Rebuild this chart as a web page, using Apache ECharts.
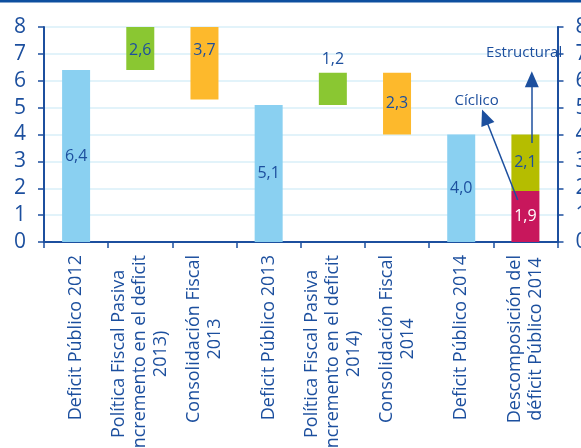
<!DOCTYPE html>
<html><head><meta charset="utf-8">
<script src="https://cdn.jsdelivr.net/npm/echarts@6/dist/echarts.min.js"></script>
<style>html,body{margin:0;padding:0;background:#fff}#c{width:581px;height:448px}</style>
</head><body><div id="c"></div>
<script>
const categories = [
  'Deficit Público 2012',
  'Política Fiscal Pasiva\nincremento en el deficit\n2013)',
  'Consolidación Fiscal\n2013',
  'Deficit Público 2013',
  'Política Fiscal Pasiva\nincremento en el deficit\n2014)',
  'Consolidación Fiscal\n2014',
  'Deficit Público 2014',
  'Descomposición del\ndéficit Público 2014'
];
// kind: deficit / pasiva / consolidacion / desglose
const kinds = ['deficit','pasiva','consolidacion','deficit','pasiva','consolidacion','deficit','desglose'];
const values = [6.4, 2.6, 3.7, 5.1, 1.2, 2.3, 4.0, null];
const ciclico = 1.9;
const estructural = 2.1;
const yTicks = [0,1,2,3,4,5,6,7,8];
const annotations = ['Estructural', 'Cíclico'];
// arrows in data units (x on 0..8 category scale, y value)
const arrowEstructural = [[7.6, 3.68], [7.6, 6.06]];
const arrowCiclico = [[7.38, 1.56], [6.87, 4.65]];
const annotationPos = [[7.48, 7.06], [6.74, 5.24]];

const FONT = 'Open Sans';
const BLUE = '#1c4f9e';
const YMAX = yTicks[yTicks.length - 1];
const colors = {deficit:'#8ad0f1', pasiva:'#8ac732', consolidacion:'#fdb92c', ciclico:'#c8175c', estructural:'#b5bd00'};

// waterfall bases
const base = [], blue = [], green = [], orange = [], mag = [], olive = [];
let level = 0;
const fmt = v => v.toFixed(1).replace('.', ',');
function item(v, b){
  if (b + v > YMAX) return {value: v, label: {position: 'insideTop', distance: 15}};
  return {value: v, label: {position: v < 1.5 ? 'top' : 'inside'}};
}
kinds.forEach((k, i) => {
  const v = values[i];
  base.push('-'); blue.push('-'); green.push('-'); orange.push('-'); mag.push('-'); olive.push('-');
  if (k === 'deficit') { blue[i] = item(v, 0); base[i] = 0; level = v; }
  else if (k === 'pasiva') { base[i] = level; green[i] = item(v, level); level = level + v; }
  else if (k === 'consolidacion') { level = level - v; base[i] = level; orange[i] = item(v, level); }
  else { base[i] = 0; mag[i] = item(ciclico, 0); olive[i] = item(estructural, ciclico); }
});

const labelStyle = {show: true, color: BLUE, fontSize: 16, fontFamily: FONT, formatter: p => fmt(p.value)};
function barSeries(name, data, color, lblColor){
  return {name, type: 'bar', stack: 'w', data, barWidth: 28, itemStyle: {color},
    label: Object.assign({}, labelStyle, lblColor ? {color: lblColor} : {}), clip: true, silent: true};
}

const chart = echarts.init(document.getElementById('c'), null, {renderer: 'canvas'});
const axisLabelY = {fontSize: 21, color: BLUE, margin: 18, fontFamily: FONT};
chart.setOption({
  animation: false,
  textStyle: {fontFamily: FONT},
  graphic: [{type: 'rect', shape: {x: 0, y: 0, width: 581, height: 2.5}, style: {fill: '#0d4f9f'}}],
  grid: {left: 44, right: 23.5, top: 27, bottom: 206, outerBoundsMode: 'none', containLabel: false},
  xAxis: [{
    type: 'category', data: categories,
    axisLine: {lineStyle: {color: BLUE, width: 2}},
    axisTick: {show: true, length: 6, lineStyle: {color: BLUE, width: 1.5}},
    axisLabel: {rotate: 90, interval: 0, margin: 13, color: BLUE, fontSize: 18, fontFamily: FONT, lineHeight: 21,
      formatter: v => v.split('\n').map(l => '{c|' + l + '}').join('\n'),
      rich: {c: {align: 'center', color: BLUE, fontSize: 18, fontFamily: FONT, lineHeight: 21}}}
  }, {
    type: 'value', min: 0, max: 8, show: false
  }],
  yAxis: [{
    type: 'value', min: 0, max: YMAX, interval: 1,
    axisLine: {show: true, lineStyle: {color: BLUE, width: 2}},
    axisTick: {show: true, length: 6, lineStyle: {color: BLUE, width: 1.5}},
    splitLine: {lineStyle: {color: '#d9eff9', width: 1.5}},
    axisLabel: Object.assign({formatter: v => yTicks.includes(v) ? String(v) : ''}, axisLabelY)
  }, {
    type: 'value', min: 0, max: YMAX, interval: 1, position: 'right',
    axisLine: {show: true, lineStyle: {color: BLUE, width: 2}},
    axisTick: {show: true, length: 6, lineStyle: {color: BLUE, width: 1.5}},
    splitLine: {show: false},
    axisLabel: Object.assign({formatter: v => String(v)}, axisLabelY)
  }],
  series: [
    {name: 'base', type: 'bar', stack: 'w', data: base, barWidth: 28, itemStyle: {color: 'transparent'}, silent: true},
    barSeries('deficit', blue, colors.deficit),
    barSeries('pasiva', green, colors.pasiva),
    barSeries('consolidacion', orange, colors.consolidacion),
    barSeries('ciclico', mag, colors.ciclico, '#ffffff'),
    barSeries('estructural', olive, colors.estructural),
    {
      type: 'scatter', xAxisIndex: 1, yAxisIndex: 0, symbol: 'circle', symbolSize: 2, silent: true, z: 1,
      itemStyle: {color: 'rgba(0,0,0,0)', opacity: 1},
      data: annotations.map((t, i) => ({value: annotationPos[i], name: t})),
      label: {show: true, position: 'inside', formatter: p => p.name, color: BLUE, fontSize: 15, fontFamily: FONT},
      markLine: {
        silent: true, symbol: ['none', 'triangle'], symbolSize: [14, 16],
        lineStyle: {color: BLUE, width: 1.5, type: 'solid', opacity: 1}, label: {show: false},
        data: [
          [{coord: arrowEstructural[0]}, {coord: arrowEstructural[1]}],
          [{coord: arrowCiclico[0]}, {coord: arrowCiclico[1]}]
        ]
      }
    }
  ]
});
</script></body></html>
